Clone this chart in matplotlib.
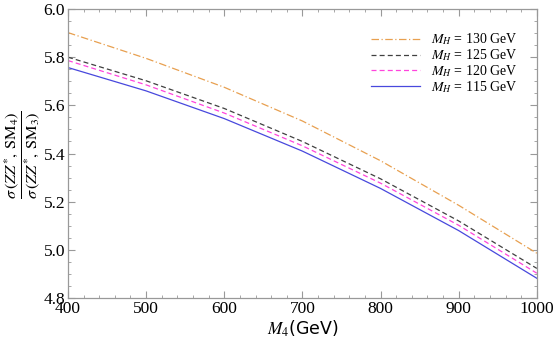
import matplotlib
matplotlib.use("Agg")
import matplotlib.pyplot as plt
from matplotlib.ticker import MultipleLocator

plt.rcParams['font.family'] = ['Liberation Serif', 'DejaVu Serif']
plt.rcParams['mathtext.fontset'] = 'stix'

# M4 values (GeV)
m4 = [400, 500, 600, 700, 800, 900, 1000]
# ratio sigma(ZZ*, SM4) / sigma(ZZ*, SM3) for each Higgs mass
r130 = [5.902, 5.795, 5.675, 5.535, 5.370, 5.185, 4.986]
r125 = [5.800, 5.702, 5.587, 5.450, 5.295, 5.120, 4.923]
r120 = [5.786, 5.685, 5.568, 5.432, 5.277, 5.102, 4.903]
r115 = [5.757, 5.660, 5.545, 5.410, 5.255, 5.080, 4.882]

fig = plt.figure(figsize=(5.54, 3.41), dpi=100)
ax = fig.add_axes([0.1227, 0.126, 0.969 - 0.1227, 0.9736 - 0.126])

ax.plot(m4, r130, color='#E8A050', lw=0.9, ls=(0, (6, 2, 1, 2)), label=r'$M_H$ = 130 GeV')
ax.plot(m4, r125, color='#404040', lw=0.9, ls=(0, (4, 2.5)), label=r'$M_H$ = 125 GeV')
ax.plot(m4, r120, color='#FF44DD', lw=0.9, ls=(0, (4, 2.5)), label=r'$M_H$ = 120 GeV')
ax.plot(m4, r115, color='#4848DD', lw=0.9, ls='-', label=r'$M_H$ = 115 GeV')

ax.set_xlim(400, 1000)
ax.set_ylim(4.8, 6.0)
ax.xaxis.set_major_locator(MultipleLocator(100))
ax.xaxis.set_minor_locator(MultipleLocator(20))
ax.yaxis.set_major_locator(MultipleLocator(0.2))
ax.yaxis.set_minor_locator(MultipleLocator(0.05))
ax.set_yticklabels([f'{v:.1f}' for v in ax.get_yticks()])

for s in ax.spines.values():
    s.set_color('#999999')
    s.set_linewidth(0.9)
ax.tick_params(which='both', direction='in', top=True, right=True, color='#999999',
               labelsize=12.5, labelcolor='black', pad=2)
ax.tick_params(which='major', length=5)
ax.tick_params(which='minor', length=2.5)

ax.set_xlabel(r'$M_4$(GeV)', fontsize=12.5, family=['DejaVu Sans'], labelpad=1)
fig.text(22 / 554, 1 - 155 / 341,
         r'$\dfrac{\sigma\,(ZZ^{*},\,\mathrm{SM}_4)}{\sigma\,(ZZ^{*},\,\mathrm{SM}_3)}$',
         fontsize=11.8, rotation=90, ha='center', va='center')

leg = ax.legend(loc='upper right', bbox_to_anchor=(0.985, 0.965), frameon=False,
                fontsize=10, handlelength=3.5, labelspacing=0.0, handletextpad=0.8)

fig.savefig('out.png', dpi=100)
